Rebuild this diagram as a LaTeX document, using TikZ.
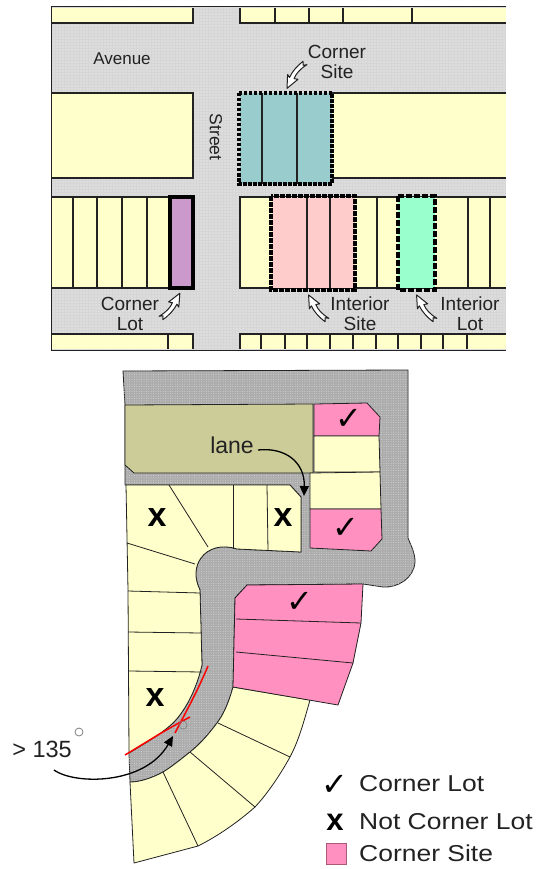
\documentclass[tikz,border=0pt]{standalone}
\usepackage{fontspec}
\setmainfont{Liberation Sans}
\newfontfamily\symfont{DejaVu Sans}
\usetikzlibrary{arrows.meta,patterns.meta}
\definecolor{cream}{HTML}{FFFFCC}
\definecolor{olivelot}{HTML}{CCCC99}
\definecolor{hotpink}{HTML}{FF90C0}
\definecolor{roadlight}{HTML}{D6D6D6}
\definecolor{roaddark}{HTML}{ACACAC}
\definecolor{inkc}{HTML}{222222}
\newcommand{\whitearrow}[1]{%
  \begin{scope}[#1]
    \draw[line width=1pt,draw=inkc,fill=white,line join=round]
      (0,3) .. controls (8,5) and (15,5) .. (21,3) -- (20,7) -- (31,-3) -- (17,-6)
      -- (19,-2) .. controls (14,0) and (8,0) .. (0,-3) -- (3,0) -- cycle;
  \end{scope}}
\tikzset{
  lbl/.style={font=\fontsize{19}{21}\selectfont,text=inkc,inner sep=0pt,align=center},
  lot/.style={fill=cream,draw=inkc,line width=1.4pt},
  tick/.style={draw=inkc,line width=1.3pt},
  lotb/.style={draw=inkc,line width=.8pt,line join=round},
  tickb/.style={draw=inkc,line width=.8pt},
  sitebox/.style={draw=black,line width=3.4pt,dash pattern=on 3.5pt off 1.5pt},
  marklbl/.style={font=\fontsize{34}{34}\selectfont\bfseries,inner sep=0pt,text=black},
  checklbl/.style={font=\symfont\fontsize{32}{32}\selectfont,inner sep=0pt,text=black},
  leglbl/.style={font=\fontsize{23}{25}\selectfont,xscale=1.15,anchor=west,inner sep=0pt,text=inkc},
}
\begin{document}
\begin{tikzpicture}[x=1pt,y=-1pt]
\useasboundingbox (0,0) rectangle (539,869);
\fill[white] (0,0) rectangle (539,869);
% ---- upper panel ----
\fill[roadlight] (51,7) rectangle (506,350);
\fill[pattern={Dots[distance=3pt,radius=.55pt]},pattern color=white!92!gray] (51,7) rectangle (506,350);
\draw[line width=1pt,draw=inkc] (506,7) -- (51,7) -- (51,350) -- (506,350);
% top row
\fill[cream] (52,8) rectangle (193,23);
\draw[lot,fill=none] (52,23) -- (193,23) -- (193,8);
\fill[cream] (240,8) rectangle (506,23);
\draw[lot,fill=none] (240,8) -- (240,23) -- (506,23);
\foreach \x in {275,309,343,412} \draw[tick] (\x,8) -- (\x,23);
% large blocks
\fill[cream] (52,93) rectangle (193,178);
\draw[lot,fill=none] (52,93) -- (193,93) -- (193,178) -- (52,178);
\fill[cream] (332,93) rectangle (506,178);
\draw[lot,fill=none] (332,93) -- (506,93) (332,178) -- (506,178);
\fill[fill={rgb,255:red,153;green,204;blue,204}] (240,93) rectangle (332,184);
\foreach \x in {262,297} \draw[tick] (\x,93) -- (\x,184);
\draw[sitebox] (239,93) rectangle (332,184);
% middle row
\fill[cream] (52,197) rectangle (193,288);
\draw[lot,fill=none] (52,197) -- (193,197) (52,288) -- (193,288);
\foreach \x in {73,97,122,147} \draw[tick] (\x,197) -- (\x,288);
\fill[fill={rgb,255:red,204;green,153;blue,204}] (170,197) rectangle (193,288);
\draw[line width=3.4pt,draw=black] (170,197) rectangle (193,288);
\fill[cream] (240,197) rectangle (506,288);
\draw[lot,fill=none] (506,197) -- (240,197) -- (240,288) -- (506,288);
\foreach \x in {377,468,490} \draw[tick] (\x,197) -- (\x,288);
\fill[fill={rgb,255:red,255;green,204;blue,204}] (272,197) rectangle (355,288);
\foreach \x in {307,330} \draw[tick] (\x,197) -- (\x,288);
\draw[sitebox,line width=4pt,dash pattern=on 5pt off 1pt] (271,196) rectangle (355,290);
\fill[fill={rgb,255:red,153;green,255;blue,204}] (398,197) rectangle (435,288);
\draw[sitebox,dash pattern=on 6pt off 2pt] (398,196) rectangle (435,290);
% bottom row
\fill[cream] (52,334) rectangle (193,349);
\draw[lot,fill=none] (52,334) -- (193,334) -- (193,349);
\draw[tick] (168,334) -- (168,349);
\fill[cream] (240,334) rectangle (506,349);
\draw[lot,fill=none] (240,349) -- (240,334) -- (506,334);
\foreach \x in {261,285,307,330,353,376,398,421,443,467} \draw[tick] (\x,334) -- (\x,349);
% labels
\node[lbl,font=\fontsize{17}{19}\selectfont] (avenue) at (122,59) {Avenue};
\node[lbl,font=\fontsize{17.5}{19}\selectfont,rotate=-90] (street) at (216,137) {Street};
\node[lbl] (csite) at (337,61.5) {Corner\\[-1pt]Site};
\node[lbl] (clot) at (130,313.5) {Corner\\[-1pt]Lot};
\node[lbl] (isite) at (360,313.5) {Interior\\[-1pt]Site};
\node[lbl] (ilot) at (470,313.5) {Interior\\[-1pt]Lot};
\whitearrow{shift={(305,63)},rotate=-130,yscale=.85,xscale=1}
\whitearrow{shift={(161,318)},rotate=48,yscale=.85,xscale=1}
\whitearrow{shift={(327,320)},rotate=131,yscale=-.85,xscale=1}
\whitearrow{shift={(435,320)},rotate=131,yscale=-.85,xscale=1}
% ---- lower plan ----
\path[fill=roaddark,draw=inkc,line width=.8pt,line join=round]
  (123,371) -- (408,370) -- (408,538)
  .. controls (412,548) and (415,553) .. (415,562)
  .. controls (414,578) and (398,588) .. (383,587) -- (363,584) -- (247,585) -- (235,598)
  -- (233,687) .. controls (228,705) and (223,715) .. (217,723)
  .. controls (208,735) and (200,744) .. (190,752)
  .. controls (180,760) and (170,768) .. (163,772)
  .. controls (152,778) and (140,782) .. (130,782)
  -- (129,753) .. controls (145,743) and (160,735) .. (173,723)
  .. controls (182,714) and (195,695) .. (202,665)
  -- (200,590) .. controls (194,578) and (195,566) .. (201,558)
  .. controls (208,548) and (222,544) .. (237,549)
  -- (301,552) -- (301,497) -- (290,485) -- (125,485) -- (125,405) -- cycle;
\fill[pattern={Dots[distance=2.4pt,radius=.5pt]},pattern color=roadlight]
  (123,371) -- (408,370) -- (408,538)
  .. controls (412,548) and (415,553) .. (415,562)
  .. controls (414,578) and (398,588) .. (383,587) -- (363,584) -- (247,585) -- (235,598)
  -- (233,687) .. controls (228,705) and (223,715) .. (217,723)
  .. controls (208,735) and (200,744) .. (190,752)
  .. controls (180,760) and (170,768) .. (163,772)
  .. controls (152,778) and (140,782) .. (130,782)
  -- (129,753) .. controls (145,743) and (160,735) .. (173,723)
  .. controls (182,714) and (195,695) .. (202,665)
  -- (200,590) .. controls (194,578) and (195,566) .. (201,558)
  .. controls (208,548) and (222,544) .. (237,549)
  -- (301,552) -- (301,497) -- (290,485) -- (125,485) -- (125,405) -- cycle;
% olive block
\draw[lotb,fill=olivelot] (125,405) -- (313,404) -- (313,473) -- (134,473) -- (125,465) -- cycle;
% right column lots
\draw[lotb,fill=hotpink] (314,404) -- (367,403) -- (380,417) -- (379,436) -- (314,436) -- cycle;
\draw[lotb,fill=cream] (314,436) -- (379,436) -- (380,472) -- (314,472) -- cycle;
\draw[lotb,fill=cream] (310,473) -- (380,472) -- (381,509) -- (310,509) -- cycle;
\draw[lotb,fill=hotpink] (310,509) -- (381,509) -- (382,539) -- (371,551) -- (310,548) -- cycle;
% left lots
\draw[lotb,fill=cream] (126,485) -- (290,485) -- (301,497) -- (301,552) -- (237,549)
  .. controls (222,544) and (208,548) .. (201,558)
  .. controls (195,566) and (194,578) .. (200,590)
  -- (202,665) .. controls (195,695) and (182,714) .. (173,723)
  .. controls (160,735) and (145,743) .. (129,753) -- (128,590) -- cycle;
\draw[tickb] (169,485) -- (208,547);
\draw[tickb] (233,485) -- (233,549);
\draw[tickb] (267,485) -- (268,551);
\draw[tickb] (127,543) -- (195,564);
\draw[tickb] (128,591) -- (200,593);
\draw[tickb] (128,632) -- (201,633);
\draw[tickb] (129,671) -- (202,672);
% fan lots
\draw[lotb,fill=cream] (130,782) .. controls (140,782) and (152,778) .. (163,772)
  .. controls (170,768) and (180,760) .. (190,752)
  .. controls (200,744) and (208,735) .. (217,723)
  .. controls (223,715) and (228,705) .. (233,687)
  -- (310,700) .. controls (303,725) and (298,742) .. (290,757)
  .. controls (280,775) and (268,793) .. (255,807)
  .. controls (238,822) and (218,836) .. (198,846)
  -- (134,863) -- cycle;
\draw[tickb] (163,772) -- (198,846);
\draw[tickb] (190,752) -- (255,807);
\draw[tickb] (218,723) -- (290,757);
% pink block
\draw[lotb,fill=hotpink] (235,598) -- (247,585) -- (363,584) -- (361,623) -- (353,663) -- (338,705) -- (233,687) -- cycle;
\draw[tickb] (236,619) -- (361,623);
\draw[tickb] (236,652) -- (353,663);
% marks
\node[checklbl] (c1) at (349,419) {✓};
\node[checklbl] (c2) at (346,528) {✓};
\node[checklbl] (c3) at (300,602) {✓};
\node[marklbl] (x1) at (157,518) {x};
\node[marklbl] (x2) at (283,518) {x};
\node[marklbl] (x3) at (155,698) {x};
% red lines
\draw[red,line width=1.5pt] (125,755) .. controls (145,743) and (165,730) .. (190,717);
\draw[red,line width=1.5pt] (208,666) .. controls (198,690) and (188,708) .. (175,733);
\node[circle,draw=gray,line width=.6pt,minimum size=8pt,inner sep=0pt] (vertex) at (183,725) {};
% callouts
\node[lbl,font=\fontsize{23}{25}\selectfont,anchor=base] (lane) at (232,453) {lane};
\coordinate (lanetip) at (304,496);
\draw[black,line width=1.3pt,-{Triangle[width=9pt,length=10pt]}] (258,450) .. controls (285,447) and (305,462) .. (lanetip);
\node[lbl,font=\fontsize{23.5}{25}\selectfont,anchor=base] (angle) at (42,757) {> 135};
\node[circle,draw=gray,line width=.8pt,minimum size=8pt,inner sep=0pt] (deg) at (79,732) {};
\coordinate (angletail) at (54,770);
\coordinate (angletip) at (173,736);
\draw[black,line width=1.3pt,-{Triangle[width=9pt,length=10pt]}] (angletail) .. controls (75,785) and (145,785) .. (angletip);
% legend
\node[checklbl] (lc) at (335,785) {✓};
\node[marklbl,font=\fontsize{31}{31}\selectfont\bfseries] (lx) at (335,822) {x};
\node[draw={rgb,255:red,170;green,90;blue,120},fill=hotpink,line width=.8pt,minimum width=20pt,minimum height=21pt,inner sep=0pt] (ls) at (336,853.5) {};
\node[leglbl] (l1) at (359,784) {Corner Lot};
\node[leglbl] (l2) at (359,822) {Not Corner Lot};
\node[leglbl] (l3) at (359,853) {Corner Site};
\end{tikzpicture}
\end{document}
